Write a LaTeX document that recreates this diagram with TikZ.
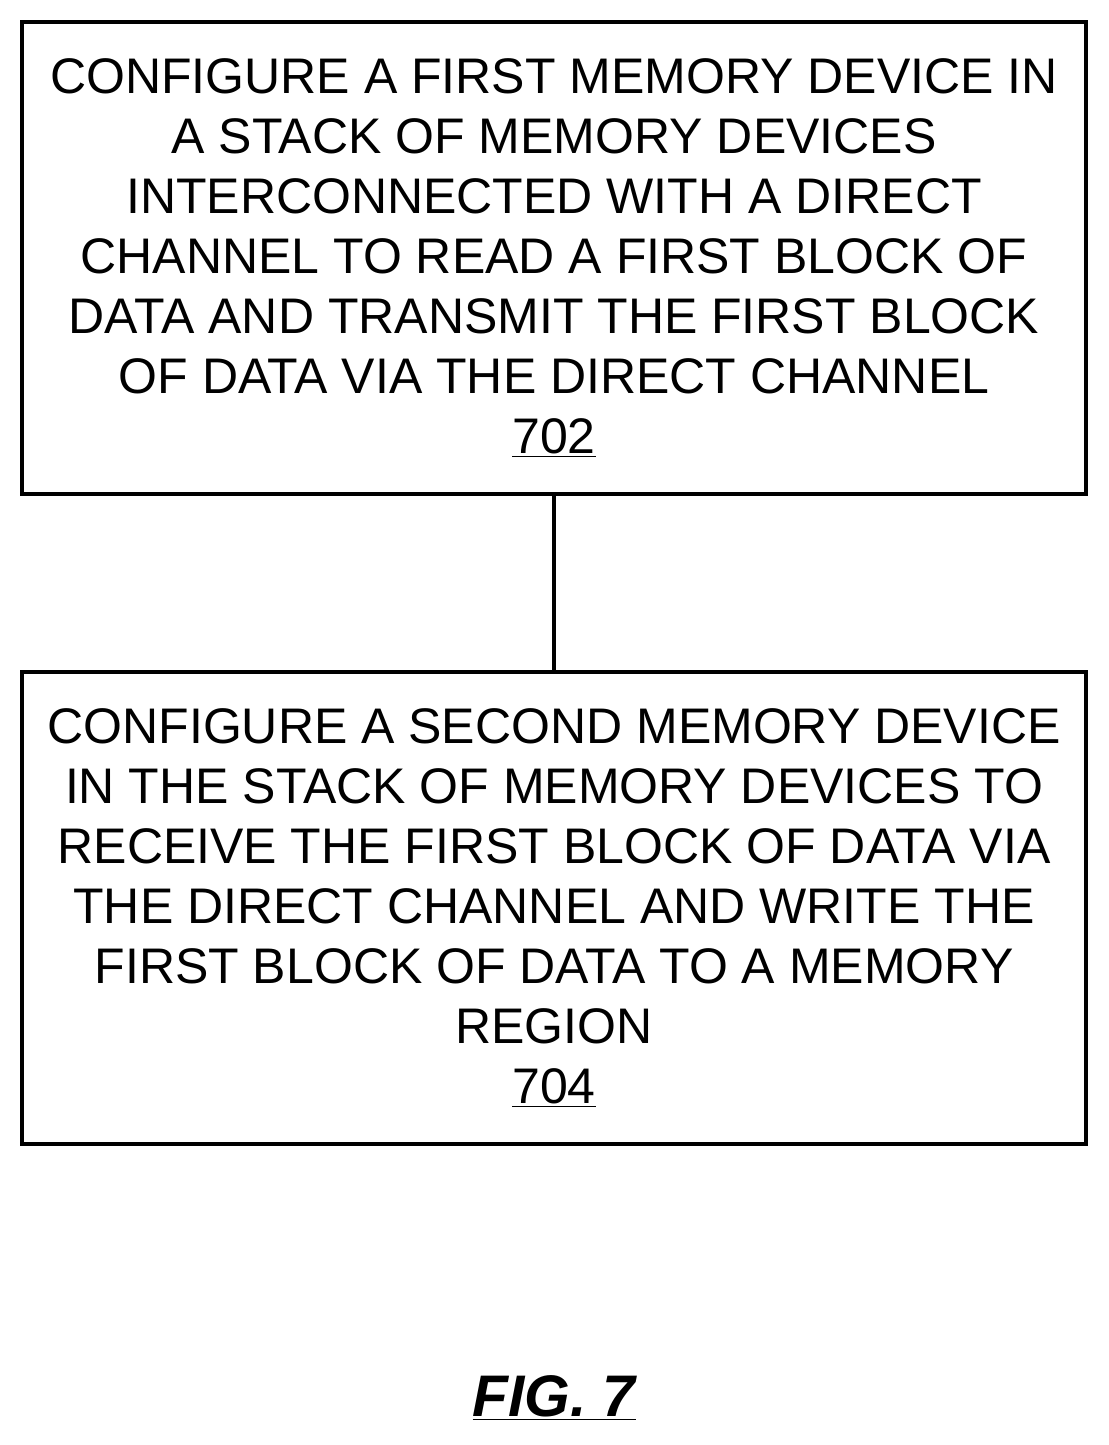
\documentclass[tikz,border=0pt]{standalone}
\usepackage{fontspec}
\setmainfont{Liberation Sans}
\begin{document}
\begin{tikzpicture}[x=0.75pt,y=-0.75pt,
  box/.style={draw,line width=2.6pt,minimum width=1064*0.75pt,minimum height=472*0.75pt,align=center,inner sep=0pt,
    font=\fontsize{37.5}{45}\selectfont},
  conn/.style={line width=2.6pt}]
\useasboundingbox (0,0) rectangle (1108,1445);
\node[box] (a) at (554,258) {CONFIGURE A FIRST MEMORY DEVICE IN\\A STACK OF MEMORY DEVICES\\INTERCONNECTED WITH A DIRECT\\CHANNEL TO READ A FIRST BLOCK OF\\DATA AND TRANSMIT THE FIRST BLOCK\\OF DATA VIA THE DIRECT CHANNEL\\\underline{702}};
\node[box] (b) at (554,908) {CONFIGURE A SECOND MEMORY DEVICE\\IN THE STACK OF MEMORY DEVICES TO\\RECEIVE THE FIRST BLOCK OF DATA VIA\\THE DIRECT CHANNEL AND WRITE THE\\FIRST BLOCK OF DATA TO A MEMORY\\REGION\\\underline{704}};
\draw[conn] (a) -- (b);
\node[font=\fontsize{44}{52}\selectfont\bfseries\itshape] (f) at (554,1398) {\underline{FIG. 7}};
\end{tikzpicture}
\end{document}
